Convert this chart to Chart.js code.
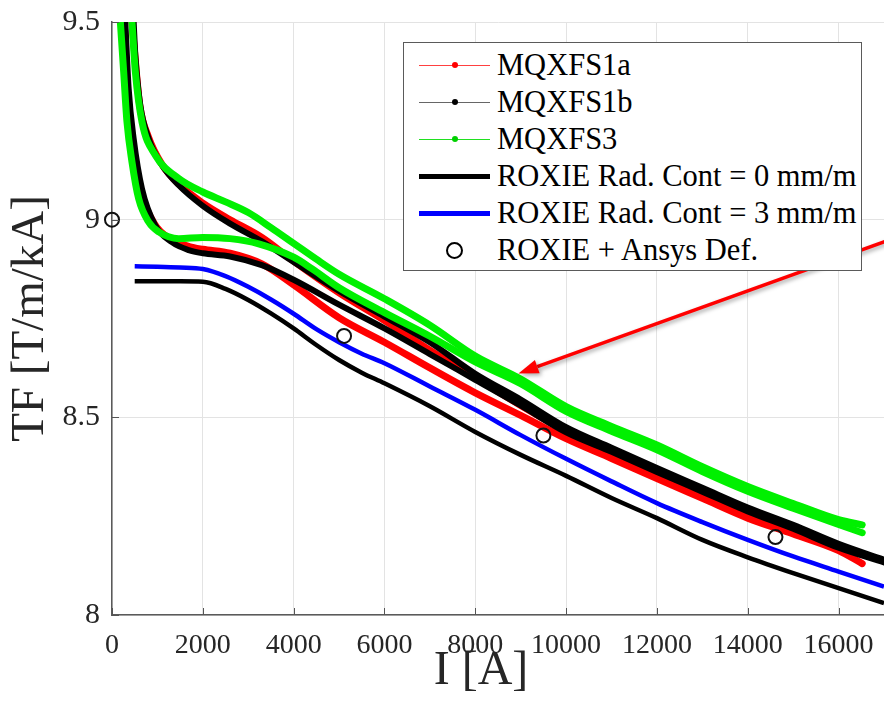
<!DOCTYPE html>
<html>
<head>
<meta charset="utf-8">
<script src="https://cdn.jsdelivr.net/npm/chart.js@4.4.1/dist/chart.umd.min.js"></script>
<style>
  html, body { margin: 0; padding: 0; background: #fff; }
  #wrap { position: relative; width: 884px; height: 708px; overflow: hidden; }
  #legend {
    position: absolute; left: 403px; top: 42px; width: 457px; height: 227px;
    border: 1px solid #5a5a5a; background: #fff;
    font-family: 'Liberation Serif', 'Times New Roman', serif; font-size: 30.5px; color: #000;
  }
  .row { position: absolute; left: 0; width: 100%; height: 37px; }
  .row .lbl { position: absolute; left: 93px; top: 0; line-height: 37px; white-space: nowrap; }
  .row .smp { position: absolute; left: 15px; width: 71px; top: 18px; }
  .row .dot { position: absolute; left: 33px; width: 6px; height: 6px; border-radius: 50%; top: -3px; }
  .row .ring { position: absolute; left: 27px; top: -8px; width: 13px; height: 13px; border: 2px solid #000; border-radius: 50%; }
  #xtitle {
    position: absolute; left: 381px; width: 200px; top: 644px; text-align: center;
    font-family: 'Liberation Serif', 'Times New Roman', serif; font-size: 48px; line-height: 1; color: #262626;
  }
</style>
</head>
<body>
<div id="wrap">
  <canvas id="chart" width="884" height="708"></canvas>
  <div id="legend"></div>
  <div id="xtitle">I [A]</div>
</div>
<script>
'use strict';

/* ─── Axes ─────────────────────────────────────────────── */
const X_TICKS = [0, 2000, 4000, 6000, 8000, 10000, 12000, 14000, 16000];
const Y_TICKS = [8, 8.5, 9, 9.5];
const X_MIN = 0, X_MAX = 17000;
const Y_MIN = 8, Y_MAX = 9.5;

/* ─── Measurements [I (A), TF (T/m/kA)] ───────────────── */
// MQXFS1a, up-ramp (lower branch) and down-ramp (upper branch)
const S1A_UP = [[240, 9.5], [330, 9.33], [440, 9.2], [620, 9.08], [930, 8.99], [1300, 8.95],
  [1700, 8.932], [2000, 8.925], [2600, 8.915], [3300, 8.888], [4000, 8.835], [5000, 8.752],
  [6000, 8.69], [7000, 8.625], [8000, 8.562], [9000, 8.505], [10000, 8.446], [11000, 8.396],
  [12000, 8.345], [13000, 8.295], [14000, 8.245], [15000, 8.205], [16000, 8.163], [16520, 8.13]];
const S1A_DN = [[440, 9.5], [500, 9.42], [610, 9.29], [800, 9.21], [1100, 9.14], [1470, 9.09],
  [2000, 9.042], [2600, 9.0], [3300, 8.955], [4000, 8.895], [5000, 8.815], [6000, 8.745],
  [7000, 8.67], [8000, 8.6], [9000, 8.53], [10000, 8.465], [11000, 8.412], [12000, 8.36],
  [13000, 8.31], [14000, 8.26], [15000, 8.215], [16000, 8.172], [16520, 8.155]];

// MQXFS1b
const S1B_UP = [[294, 9.5], [367, 9.331], [477, 9.205], [661, 9.078], [955, 8.985], [1320, 8.943],
  [1690, 8.923], [2000, 8.915], [2600, 8.907], [3300, 8.885], [4000, 8.848], [5000, 8.785],
  [6000, 8.725], [7000, 8.66], [8000, 8.595], [9000, 8.53], [10000, 8.462], [11000, 8.413],
  [12000, 8.362], [13000, 8.312], [14000, 8.262], [15000, 8.218], [16000, 8.17], [17000, 8.133]];
const S1B_DN = [[477, 9.5], [514, 9.416], [624, 9.289], [808, 9.205], [1100, 9.138], [1470, 9.087],
  [2000, 9.035], [2600, 8.99], [3300, 8.945], [4000, 8.893], [5000, 8.82], [6000, 8.755],
  [7000, 8.69], [8000, 8.61], [9000, 8.545], [10000, 8.475], [11000, 8.423], [12000, 8.372],
  [13000, 8.322], [14000, 8.272], [15000, 8.228], [16000, 8.18], [17000, 8.14]];

// MQXFS3
const S3_UP = [[184, 9.5], [257, 9.374], [330, 9.247], [440, 9.146], [587, 9.053], [808, 8.994],
  [1030, 8.969], [1470, 8.952], [2000, 8.955], [2600, 8.952], [3230, 8.939], [4000, 8.905],
  [4400, 8.876], [5000, 8.828], [6000, 8.765], [7000, 8.705], [8000, 8.64], [9000, 8.585],
  [10000, 8.515], [11000, 8.465], [12000, 8.418], [13000, 8.363], [14000, 8.313], [15000, 8.27],
  [16000, 8.229], [16520, 8.208]];
const S3_DN = [[440, 9.5], [514, 9.374], [661, 9.247], [955, 9.163], [1470, 9.104], [2000, 9.07],
  [2500, 9.045], [3000, 9.018], [3500, 8.98], [4000, 8.94], [4500, 8.9], [5000, 8.862],
  [6000, 8.8], [7000, 8.733], [8000, 8.655], [9000, 8.597], [10000, 8.527], [11000, 8.477],
  [12000, 8.43], [13000, 8.375], [14000, 8.325], [15000, 8.282], [16000, 8.241], [16520, 8.228]];

/* ─── ROXIE computations ───────────────────────────────── */
const ROXIE_I   = [500, 1000, 1500, 2000, 2500, 3000, 3500, 4000, 4500, 5000, 5500, 6000,
  7000, 8000, 9000, 10000, 11000, 12000, 13000, 14000, 15000, 16000, 17000];
const ROXIE0_TF = [8.844, 8.844, 8.844, 8.843, 8.825, 8.797, 8.763, 8.725, 8.683, 8.645, 8.613, 8.586,
  8.528, 8.463, 8.405, 8.352, 8.296, 8.245, 8.19, 8.146, 8.106, 8.068, 8.03];
const ROXIE3_TF = [8.882, 8.881, 8.879, 8.875, 8.857, 8.83, 8.798, 8.762, 8.723, 8.69, 8.661, 8.637,
  8.578, 8.519, 8.455, 8.395, 8.338, 8.283, 8.235, 8.19, 8.148, 8.11, 8.072];

const ANSYS_I  = [0, 5110, 9500, 14610];
const ANSYS_TF = [9.0, 8.706, 8.454, 8.197];

/* ─── Annotation arrow (data coords) ───────────────────── */
const ARROW_FROM = [17150, 8.95];
const ARROW_TO   = [8950, 8.611];

const LEGEND = ['MQXFS1a', 'MQXFS1b', 'MQXFS3', 'ROXIE Rad. Cont = 0 mm/m',
  'ROXIE Rad. Cont = 3 mm/m', 'ROXIE + Ansys Def.'];

const FONT = "'Liberation Serif','Times New Roman',serif";
const TXT  = '#262626';

/* ─── helpers ──────────────────────────────────────────── */
const pts   = arr => arr.map(([x, y]) => ({ x, y }));
const zipXY = (xs, ys) => xs.map((x, i) => ({ x, y: ys[i] }));

function branch(label, data, color, width, order) {
  return { label, data: pts(data), borderColor: color, borderWidth: width, pointRadius: 0,
    cubicInterpolationMode: 'monotone', borderCapStyle: 'round', fill: false, order };
}
function roxie(label, ys, color) {
  return { label, data: zipXY(ROXIE_I, ys), borderColor: color, borderWidth: 4.5,
    pointRadius: 0, cubicInterpolationMode: 'monotone', order: 1 };
}
function noPad(s) { s.paddingLeft = 0; s.paddingRight = 0; s.paddingTop = 0; s.paddingBottom = 0; }

/* ─── plugins ──────────────────────────────────────────── */
const innerTicks = {
  id: 'innerTicks',
  afterDraw(chart) {
    const { ctx, chartArea: a, scales: { x, y } } = chart;
    ctx.save();
    ctx.strokeStyle = '#555';
    ctx.lineWidth = 1;
    ctx.beginPath();
    X_TICKS.forEach(v => {
      const px = Math.round(x.getPixelForValue(v)) + 0.5;
      ctx.moveTo(px, a.bottom); ctx.lineTo(px, a.bottom - 7);
    });
    Y_TICKS.forEach(v => {
      const py = Math.round(y.getPixelForValue(v)) + 0.5;
      ctx.moveTo(a.left, py); ctx.lineTo(a.left + 7, py);
    });
    ctx.stroke();
    ctx.restore();
  }
};

const arrow = {
  id: 'arrow',
  afterDatasetsDraw(chart) {
    const { ctx, scales: { x, y } } = chart;
    const x0 = x.getPixelForValue(ARROW_FROM[0]), y0 = y.getPixelForValue(ARROW_FROM[1]);
    const x1 = x.getPixelForValue(ARROW_TO[0]),   y1 = y.getPixelForValue(ARROW_TO[1]);
    const ang = Math.atan2(y1 - y0, x1 - x0);
    const len = 20, half = 7;
    const bx = x1 - len * Math.cos(ang), by = y1 - len * Math.sin(ang);
    ctx.save();
    ctx.shadowColor = 'rgba(0,0,0,0.35)';
    ctx.shadowBlur = 4;
    ctx.shadowOffsetX = 2;
    ctx.shadowOffsetY = 2;
    ctx.strokeStyle = '#ff0000';
    ctx.fillStyle = '#ff0000';
    ctx.lineWidth = 3.5;
    ctx.beginPath();
    ctx.moveTo(x0, y0); ctx.lineTo(bx, by);
    ctx.stroke();
    ctx.beginPath();
    ctx.moveTo(x1, y1);
    ctx.lineTo(bx + half * Math.sin(ang), by - half * Math.cos(ang));
    ctx.lineTo(bx - half * Math.sin(ang), by + half * Math.cos(ang));
    ctx.closePath();
    ctx.fill();
    ctx.restore();
  }
};

/* ─── chart ────────────────────────────────────────────── */
new Chart(document.getElementById('chart'), {
  type: 'line',
  data: {
    datasets: [
      { label: LEGEND[5], data: zipXY(ANSYS_I, ANSYS_TF), showLine: false, pointStyle: 'circle',
        pointRadius: 7, pointBorderWidth: 2, pointBorderColor: '#111', pointBackgroundColor: 'rgba(0,0,0,0)',
        clip: false, order: 0 },
      roxie(LEGEND[3], ROXIE0_TF, '#000'),
      roxie(LEGEND[4], ROXIE3_TF, '#0000ff'),
      branch(LEGEND[2], S3_UP, '#00f000', 7, 2),
      branch(LEGEND[2], S3_DN, '#00f000', 7, 2),
      branch(LEGEND[1], S1B_UP, '#000', 6, 3),
      branch(LEGEND[1], S1B_DN, '#000', 6, 3),
      branch(LEGEND[0], S1A_UP, '#ff0000', 7, 4),
      branch(LEGEND[0], S1A_DN, '#ff0000', 7, 4),
    ]
  },
  options: {
    responsive: false,
    animation: false,
    devicePixelRatio: 1,
    layout: { autoPadding: false, padding: { top: 22, right: 0, left: 0, bottom: 0 } },
    plugins: { legend: { display: false }, tooltip: { enabled: false } },
    scales: {
      x: {
        type: 'linear', min: X_MIN, max: X_MAX,
        afterBuildTicks: s => { s.ticks = X_TICKS.map(value => ({ value })); },
        afterFit: s => { s.height = 93; noPad(s); },
        grid: { color: '#e3e3e3', lineWidth: 1, drawTicks: false },
        border: { color: '#5a5a5a', width: 1.5 },
        ticks: { padding: 14, color: TXT, font: { family: FONT, size: 28 }, maxRotation: 0,
          autoSkip: false, callback: v => String(v) },
      },
      y: {
        type: 'linear', min: Y_MIN, max: Y_MAX,
        afterBuildTicks: s => { s.ticks = Y_TICKS.map(value => ({ value })); },
        afterFit: s => { s.width = 112; noPad(s); },
        grid: { color: '#e3e3e3', lineWidth: 1, drawTicks: false },
        border: { color: '#5a5a5a', width: 1.5 },
        ticks: { padding: 12, color: TXT, font: { family: FONT, size: 30 }, callback: v => String(v) },
        title: { display: true, text: 'TF [T/m/kA]', color: TXT, padding: { top: 2, bottom: 0 },
          font: { family: FONT, size: 47 } },
      },
    },
  },
  plugins: [arrow, innerTicks],
});

/* ─── HTML legend ──────────────────────────────────────── */
const SAMPLES = [
  '<div style="height:1px;background:#ff4040"></div><div class="dot" style="background:#f00"></div>',
  '<div style="height:1px;background:#666"></div><div class="dot" style="background:#000"></div>',
  '<div style="height:1px;background:#20e020"></div><div class="dot" style="background:#00d000"></div>',
  '<div style="height:5px;margin-top:-2px;background:#000"></div>',
  '<div style="height:5px;margin-top:-2px;background:#0000ff"></div>',
  '<div class="ring"></div>',
];
document.getElementById('legend').innerHTML = LEGEND.map((name, i) => `
  <div class="row" style="top:${4 + i * 37}px">
    <div class="smp">${SAMPLES[i]}</div>
    <div class="lbl">${name}</div>
  </div>`).join('');
</script>
</body>
</html>
